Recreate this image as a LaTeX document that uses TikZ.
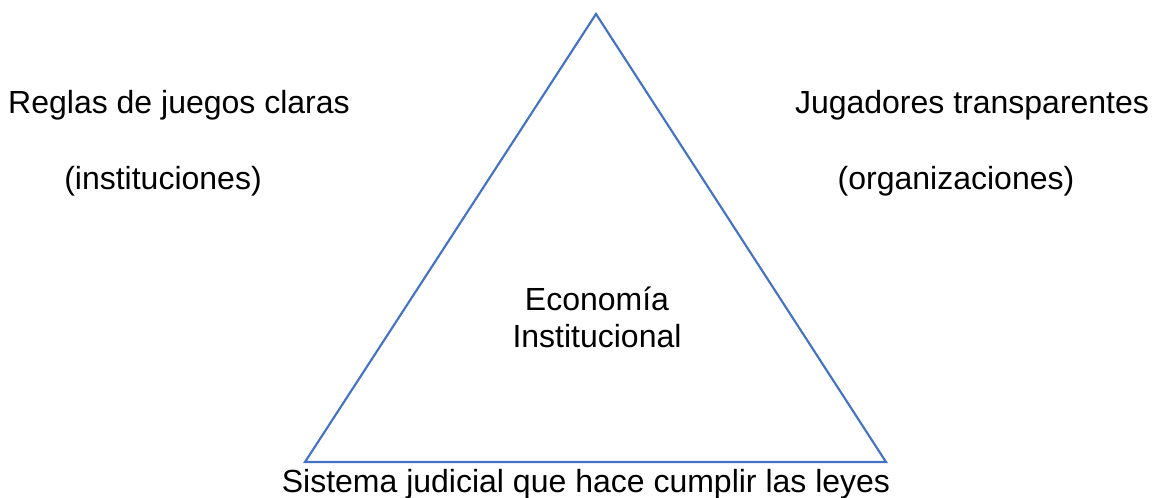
\documentclass[tikz,border=0pt]{standalone}
\usepackage{fontspec}
\setmainfont{Liberation Sans}
\definecolor{triblue}{HTML}{4472C4}
\begin{document}
\begin{tikzpicture}[x=0.75pt,y=-0.75pt,
  lbl/.style={font=\fontsize{24}{28.8}\selectfont, text=black, anchor=base, inner sep=0pt},
  tri/.style={draw=triblue, line width=1.6pt, line join=miter}]
\useasboundingbox (0,0) rectangle (1159,498);
\coordinate (top) at (596,14);
\coordinate (bl) at (305,462);
\coordinate (br) at (886,462);
\draw[tri] (top) -- (bl) -- (br) -- cycle;
\node[lbl] (reglas) at (179,114) {Reglas de juegos claras};
\node[lbl] (inst) at (163,190) {(instituciones)};
\node[lbl] (jug) at (972,114) {Jugadores transparentes};
\node[lbl] (org) at (956,190) {(organizaciones)};
\node[lbl] (eco) at (597,311) {Economía};
\node[lbl] (ins) at (597,348) {Institucional};
\node[lbl] (sis) at (586,492) {Sistema judicial que hace cumplir las leyes};
\end{tikzpicture}
\end{document}
